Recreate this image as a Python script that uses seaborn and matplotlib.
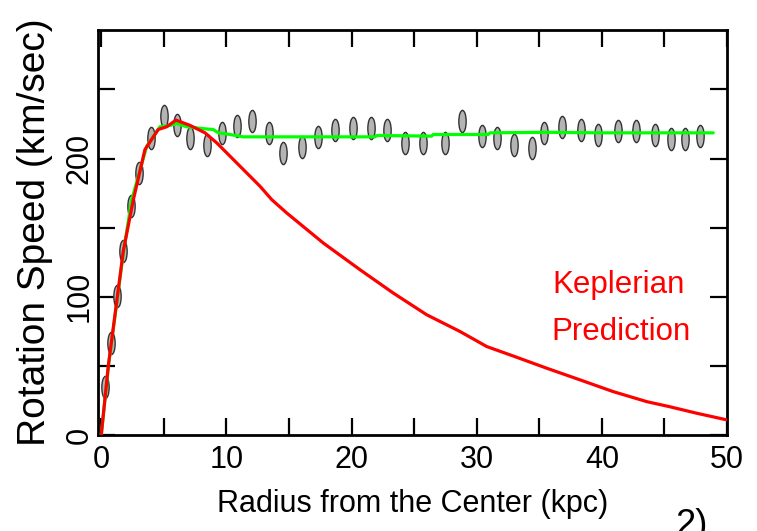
import numpy as np
import pandas as pd
import matplotlib
matplotlib.use("Agg")
import matplotlib.pyplot as plt
from matplotlib.path import Path
from matplotlib.transforms import Affine2D
from matplotlib.ticker import MultipleLocator, FuncFormatter
import seaborn as sns

# ---- data ----
obs_radius = [0.30, 0.78, 1.23, 1.76, 2.37, 3.04, 3.95, 5.01, 6.07, 7.13,
              8.41, 9.67, 10.82, 12.04, 13.40, 14.54, 16.06, 17.32, 18.70, 20.09,
              21.55, 22.80, 24.27, 25.68, 27.46, 28.80, 30.40, 31.64, 33.00, 34.39,
              35.37, 36.84, 38.33, 39.71, 41.31, 42.70, 44.27, 45.52, 46.66, 47.86]
obs_speed = [35.0, 66.4, 100.2, 132.8, 165.9, 189.6, 215.0, 230.7, 224.6, 215.2,
             210.1, 218.6, 223.9, 227.0, 218.6, 204.1, 208.5, 215.7, 221.0, 222.2,
             222.2, 220.5, 211.6, 211.4, 211.4, 227.0, 216.2, 215.0, 210.1, 207.8,
             218.6, 223.0, 220.5, 216.7, 219.8, 219.8, 216.7, 213.8, 213.8, 216.2]

fit_radius = [0.0, 0.6, 1.8, 2.43, 3.63, 4.69, 5.49, 6.02, 6.82, 8.29, 8.95,
              9.35, 10.28, 11.35, 21.87, 22.05, 26.4, 26.53, 30.92, 31.06,
              35.59, 39.85, 48.9]
fit_speed = [0.0, 52.0, 134.0, 170.0, 208.9, 223.0, 223.9, 225.4, 223.0, 221.5,
             221.0, 218.6, 217.4, 215.7, 215.7, 216.7, 216.2, 217.4, 217.4,
             218.6, 219.0, 218.6, 218.6]

kep_radius = [0.0, 0.56, 1.76, 2.56, 3.49, 4.55, 5.23, 5.97, 7.09, 8.29, 9.22,
              12.68, 13.62, 14.81, 17.74, 20.67, 23.33, 26.0, 28.66, 30.8, 32.9,
              35.6, 38.25, 40.9, 43.6, 45.4, 47.6, 50.0]
kep_speed = [0.0, 49.7, 133.0, 170.0, 206.5, 221.0, 223.0, 227.8, 224.0, 218.6,
             211.4, 180.0, 170.3, 160.7, 138.9, 119.6, 102.7, 87.0, 74.9, 64.0,
             57.2, 48.3, 39.9, 31.4, 24.1, 20.5, 15.7, 10.9]

x_ticks_labeled = [0, 10, 20, 30, 40, 50]
y_ticks_labeled = [0, 100, 200]

obs = pd.DataFrame({"r": obs_radius, "v": obs_speed})
fit = pd.DataFrame({"r": fit_radius, "v": fit_speed})
kep = pd.DataFrame({"r": kep_radius, "v": kep_speed})

sns.set_theme(style="ticks")
plt.rcParams["font.family"] = ["Liberation Sans", "DejaVu Sans"]

fig = plt.figure(figsize=(7.57, 5.31), dpi=100)
ax = fig.add_axes([0.1288, 0.1808, 0.8316, 0.7627])

# tall ellipse marker
ell = Path.unit_circle().transformed(Affine2D().scale(0.33, 1.0))

sns.scatterplot(data=obs, x="r", y="v", ax=ax, marker=ell, s=256,
                color="#b4b4b4", edgecolor="#333333", linewidth=1.0,
                zorder=2, legend=False)
sns.lineplot(data=fit, x="r", y="v", ax=ax, color="#00ff00", linewidth=2.3,
             sort=False, estimator=None, zorder=3)
sns.lineplot(data=kep, x="r", y="v", ax=ax, color="#ff0000", linewidth=2.3,
             sort=False, estimator=None, zorder=4)

ax.set_xlim(-0.3, 50)
ax.set_ylim(0, 293)

ax.xaxis.set_major_locator(MultipleLocator(5))
ax.yaxis.set_major_locator(MultipleLocator(50))
ax.xaxis.set_major_formatter(FuncFormatter(
    lambda v, p: f"{int(round(v))}" if int(round(v)) in x_ticks_labeled else ""))
ax.yaxis.set_major_formatter(FuncFormatter(
    lambda v, p: f"{int(round(v))}" if int(round(v)) in y_ticks_labeled else ""))

ax.tick_params(axis="both", which="major", direction="in", length=12.5,
               width=1.6, color="black", top=True, right=True,
               labelsize=22, labelcolor="black")
ax.tick_params(axis="x", pad=7)
ax.tick_params(axis="y", pad=2)
for lab in ax.get_yticklabels():
    lab.set_rotation(90)
    lab.set_va("center")

for sp in ax.spines.values():
    sp.set_linewidth(2.0)
    sp.set_color("black")

ax.set_xlabel("Radius from the Center (kpc)", fontsize=22, color="black",
              labelpad=10)
ax.set_ylabel("Rotation Speed (km/sec)", fontsize=28, color="black")
ax.yaxis.set_label_coords(-0.07, 0.5)

narrow = ["Liberation Sans Narrow", "Liberation Sans", "DejaVu Sans"]
ax.text(41.3, 102.9, "Keplerian", color="#ff0000", fontsize=22.5,
        family=narrow, ha="center", va="baseline")
ax.text(41.55, 68.8, "Prediction", color="#ff0000", fontsize=22.5,
        family=narrow, ha="center", va="baseline")

fig.text(675 / 757, -0.0075, "2)", fontsize=26, color="black",
         ha="left", va="baseline")

fig.savefig("out.png", dpi=100, facecolor="white")
